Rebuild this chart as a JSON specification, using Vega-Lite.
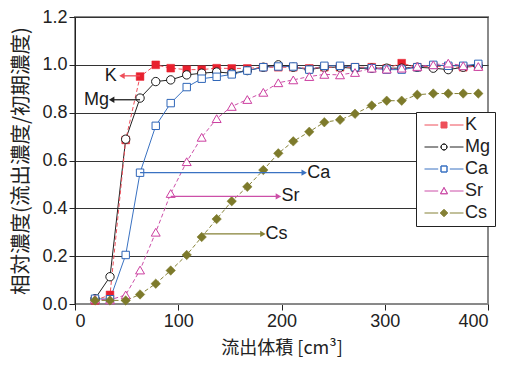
{
  "$schema": "https://vega.github.io/schema/vega-lite/v6.json",
  "autosize": "none",
  "width": 413,
  "height": 287,
  "padding": {"left": 75, "top": 17, "right": 20, "bottom": 61},
  "background": "white",
  "datasets": {
    "main": [
      {"series":"K","x":19.4,"y":0.015},{"series":"K","x":33.9,"y":0.038},{"series":"K","x":49.1,"y":0.686},{"series":"K","x":63.0,"y":0.951},{"series":"K","x":78.2,"y":1.0},{"series":"K","x":92.7,"y":0.986},{"series":"K","x":108.2,"y":0.98},{"series":"K","x":122.7,"y":0.98},{"series":"K","x":137.2,"y":0.986},{"series":"K","x":151.8,"y":0.985},{"series":"K","x":166.9,"y":0.985},{"series":"K","x":182.4,"y":0.99},{"series":"K","x":196.9,"y":0.99},{"series":"K","x":211.4,"y":0.99},{"series":"K","x":226.9,"y":0.985},{"series":"K","x":241.5,"y":0.99},{"series":"K","x":256.7,"y":0.99},{"series":"K","x":271.2,"y":0.99},{"series":"K","x":287.4,"y":0.99},{"series":"K","x":301.9,"y":0.985},{"series":"K","x":316.4,"y":1.007},{"series":"K","x":331.5,"y":0.99},{"series":"K","x":347.0,"y":0.995},{"series":"K","x":361.5,"y":0.99},{"series":"K","x":376.0,"y":0.99},{"series":"K","x":390.6,"y":0.995},
      {"series":"Mg","x":19.4,"y":0.022},{"series":"Mg","x":33.9,"y":0.114},{"series":"Mg","x":49.1,"y":0.689},{"series":"Mg","x":63.0,"y":0.861},{"series":"Mg","x":78.2,"y":0.93},{"series":"Mg","x":92.7,"y":0.937},{"series":"Mg","x":108.2,"y":0.958},{"series":"Mg","x":122.7,"y":0.965},{"series":"Mg","x":137.2,"y":0.97},{"series":"Mg","x":151.8,"y":0.965},{"series":"Mg","x":166.9,"y":0.976},{"series":"Mg","x":182.4,"y":0.99},{"series":"Mg","x":196.9,"y":1.0},{"series":"Mg","x":211.4,"y":0.99},{"series":"Mg","x":226.9,"y":0.98},{"series":"Mg","x":241.5,"y":0.99},{"series":"Mg","x":256.7,"y":0.99},{"series":"Mg","x":271.2,"y":0.985},{"series":"Mg","x":287.4,"y":0.986},{"series":"Mg","x":301.9,"y":0.986},{"series":"Mg","x":316.4,"y":0.986},{"series":"Mg","x":331.5,"y":0.99},{"series":"Mg","x":347.0,"y":0.986},{"series":"Mg","x":361.5,"y":0.98},{"series":"Mg","x":376.0,"y":0.99},{"series":"Mg","x":390.6,"y":0.995},
      {"series":"Ca","x":19.4,"y":0.022},{"series":"Ca","x":33.9,"y":0.02},{"series":"Ca","x":49.1,"y":0.205},{"series":"Ca","x":63.0,"y":0.549},{"series":"Ca","x":78.2,"y":0.745},{"series":"Ca","x":92.7,"y":0.84},{"series":"Ca","x":108.2,"y":0.907},{"series":"Ca","x":122.7,"y":0.942},{"series":"Ca","x":137.2,"y":0.95},{"series":"Ca","x":151.8,"y":0.96},{"series":"Ca","x":166.9,"y":0.976},{"series":"Ca","x":182.4,"y":0.99},{"series":"Ca","x":196.9,"y":0.993},{"series":"Ca","x":211.4,"y":0.993},{"series":"Ca","x":226.9,"y":0.98},{"series":"Ca","x":241.5,"y":0.996},{"series":"Ca","x":256.7,"y":0.996},{"series":"Ca","x":271.2,"y":0.99},{"series":"Ca","x":287.4,"y":0.986},{"series":"Ca","x":301.9,"y":0.98},{"series":"Ca","x":316.4,"y":0.98},{"series":"Ca","x":331.5,"y":0.99},{"series":"Ca","x":347.0,"y":1.0},{"series":"Ca","x":361.5,"y":0.996},{"series":"Ca","x":376.0,"y":0.996},{"series":"Ca","x":390.6,"y":1.004},
      {"series":"Sr","x":19.4,"y":0.02},{"series":"Sr","x":33.9,"y":0.017},{"series":"Sr","x":49.1,"y":0.038},{"series":"Sr","x":63.0,"y":0.142},{"series":"Sr","x":78.2,"y":0.3},{"series":"Sr","x":92.7,"y":0.462},{"series":"Sr","x":108.2,"y":0.595},{"series":"Sr","x":122.7,"y":0.697},{"series":"Sr","x":137.2,"y":0.775},{"series":"Sr","x":151.8,"y":0.826},{"series":"Sr","x":166.9,"y":0.855},{"series":"Sr","x":182.4,"y":0.885},{"series":"Sr","x":196.9,"y":0.925},{"series":"Sr","x":211.4,"y":0.937},{"series":"Sr","x":226.9,"y":0.951},{"series":"Sr","x":241.5,"y":0.96},{"series":"Sr","x":256.7,"y":0.958},{"series":"Sr","x":271.2,"y":0.968},{"series":"Sr","x":287.4,"y":0.986},{"series":"Sr","x":301.9,"y":0.982},{"series":"Sr","x":316.4,"y":0.986},{"series":"Sr","x":331.5,"y":0.993},{"series":"Sr","x":347.0,"y":1.0},{"series":"Sr","x":361.5,"y":1.007},{"series":"Sr","x":376.0,"y":0.996},{"series":"Sr","x":390.6,"y":0.993},
      {"series":"Cs","x":19.4,"y":0.015},{"series":"Cs","x":33.9,"y":0.015},{"series":"Cs","x":49.1,"y":0.015},{"series":"Cs","x":63.0,"y":0.04},{"series":"Cs","x":78.2,"y":0.085},{"series":"Cs","x":92.7,"y":0.14},{"series":"Cs","x":108.2,"y":0.205},{"series":"Cs","x":122.7,"y":0.28},{"series":"Cs","x":137.2,"y":0.355},{"series":"Cs","x":151.8,"y":0.43},{"series":"Cs","x":166.9,"y":0.49},{"series":"Cs","x":182.4,"y":0.56},{"series":"Cs","x":196.9,"y":0.63},{"series":"Cs","x":211.4,"y":0.68},{"series":"Cs","x":226.9,"y":0.72},{"series":"Cs","x":241.5,"y":0.76},{"series":"Cs","x":256.7,"y":0.77},{"series":"Cs","x":271.2,"y":0.795},{"series":"Cs","x":287.4,"y":0.83},{"series":"Cs","x":301.9,"y":0.85},{"series":"Cs","x":316.4,"y":0.85},{"series":"Cs","x":331.5,"y":0.875},{"series":"Cs","x":347.0,"y":0.88},{"series":"Cs","x":361.5,"y":0.88},{"series":"Cs","x":376.0,"y":0.88},{"series":"Cs","x":390.6,"y":0.88}
    ],
    "notes": [
      {"series":"K","x":63.0,"x2":45.5,"y":0.954,"lx":40.5},
      {"series":"Mg","x":63.0,"x2":35.5,"y":0.854,"lx":33.0},
      {"series":"Ca","x":63.0,"x2":222.0,"y":0.549,"lx":225.0},
      {"series":"Sr","x":92.7,"x2":197.0,"y":0.45,"lx":200.0},
      {"series":"Cs","x":124.0,"x2":182.0,"y":0.293,"lx":184.5}
    ]
  },
  "encoding": {
    "x": {"field": "x", "type": "quantitative", "scale": {"domain": [0, 400], "nice": false},
      "axis": {"values": [0, 100, 200, 300, 400], "grid": false, "title": "流出体積 [cm³]", "domainColor": "#888888", "titlePadding": 9}},
    "y": {"field": "y", "type": "quantitative", "scale": {"domain": [0, 1.2], "nice": false},
      "axis": {"values": [0, 0.2, 0.4, 0.6, 0.8, 1.0, 1.2], "format": ".1f", "grid": true, "title": "相対濃度(流出濃度/初期濃度)", "titlePadding": 10, "titleFontSize": 20.5}},
    "color": {"field": "series", "type": "nominal", "scale": {"domain": ["K", "Mg", "Ca", "Sr", "Cs"], "range": ["#ee4f5a", "#222222", "#3a72c2", "#cc4fa8", "#858136"]},
      "legend": {"title": null, "orient": "none", "legendX": 341, "legendY": 95, "padding": 4, "fillColor": "white", "strokeColor": "#222222", "symbolSize": 100, "symbolStrokeWidth": 1, "symbolOffset": 15, "symbolFillColor": "white", "labelFont": "Liberation Sans", "labelFontSize": 18, "labelColor": "#222222", "labelOffset": 12, "rowPadding": 4,
        "encoding": {"symbols": {
          "shape": {"value": {"expr": "datum.value === 'K' ? 'M-3.9,0H-1.16M1.16,0H3.9M-0.6,-0.6H0.6V0.6H-0.6Z' : datum.value === 'Mg' ? 'M-3.9,0H-1.16M1.16,0H3.9M-0.6,0A0.6,0.6,0,1,1,0.6,0A0.6,0.6,0,1,1,-0.6,0ZM-0.6,0A0.6,0.6,0,1,0,0.6,0A0.6,0.6,0,1,0,-0.6,0Z' : datum.value === 'Ca' ? 'M-3.9,0H-1.16M1.16,0H3.9M-0.6,-0.6H0.6V0.6H-0.6ZM-0.6,-0.6V0.6H0.6V-0.6Z' : datum.value === 'Sr' ? 'M-3.9,0H-1.16M1.16,0H3.9M0,-0.7L0.7,0.55L-0.7,0.55ZM0,-0.7L-0.7,0.55L0.7,0.55Z' : 'M-3.9,0H-1.16M1.16,0H3.9M0,-0.75L0.75,0L0,0.75L-0.75,0Z'"}},
          "opacity": {"value": 1}
        }}}}
  },
  "layer": [
    {
      "data": {"name": "main"},
      "transform": [{"filter": "datum.series === 'Mg' || datum.series === 'Ca'"}],
      "mark": {"type": "line", "strokeWidth": 1}
    },
    {
      "data": {"name": "main"},
      "transform": [{"filter": "datum.series === 'K' || datum.series === 'Sr' || datum.series === 'Cs'"}],
      "mark": {"type": "line", "strokeWidth": 1, "strokeDash": [4, 2.5]}
    },
    {
      "data": {"name": "main"},
      "transform": [{"filter": "datum.series === 'K'"}],
      "mark": {"type": "point", "shape": "square", "filled": true, "fill": "#e8202e", "stroke": "#e8202e", "strokeWidth": 0.5, "opacity": 1, "size": 60}
    },
    {
      "data": {"name": "main"},
      "transform": [{"filter": "datum.series === 'Mg'"}],
      "mark": {"type": "point", "shape": "circle", "filled": true, "fill": "white", "stroke": "#1a1a1a", "strokeWidth": 1, "opacity": 1, "size": 70}
    },
    {
      "data": {"name": "main"},
      "transform": [{"filter": "datum.series === 'Ca'"}],
      "mark": {"type": "point", "shape": "square", "filled": true, "fill": "white", "stroke": "#2f66b8", "strokeWidth": 1, "opacity": 1, "size": 55}
    },
    {
      "data": {"name": "main"},
      "transform": [{"filter": "datum.series === 'Sr'"}],
      "mark": {"type": "point", "shape": "triangle-up", "filled": true, "fill": "white", "stroke": "#cc3fa0", "strokeWidth": 1, "opacity": 1, "size": 80}
    },
    {
      "data": {"name": "main"},
      "transform": [{"filter": "datum.series === 'Cs'"}],
      "mark": {"type": "point", "shape": "diamond", "filled": true, "fill": "#7d7a2b", "stroke": "#7d7a2b", "strokeWidth": 0.5, "opacity": 1, "size": 90}
    },
    {
      "data": {"name": "notes"},
      "mark": {"type": "rule", "strokeWidth": 1.3},
      "encoding": {
        "x2": {"field": "x2"}
      }
    },
    {
      "data": {"name": "notes"},
      "transform": [{"filter": "datum.series === 'K' || datum.series === 'Mg'"}],
      "mark": {"type": "point", "shape": "triangle-left", "filled": true, "opacity": 1, "size": 40},
      "encoding": {
        "x": {"field": "x2", "type": "quantitative"}
      }
    },
    {
      "data": {"name": "notes"},
      "transform": [{"filter": "datum.series !== 'K' && datum.series !== 'Mg'"}],
      "mark": {"type": "point", "shape": "triangle-right", "filled": true, "opacity": 1, "size": 40},
      "encoding": {
        "x": {"field": "x2", "type": "quantitative"}
      }
    },
    {
      "data": {"name": "notes"},
      "transform": [{"filter": "datum.series === 'K' || datum.series === 'Mg'"}],
      "mark": {"type": "text", "align": "right", "baseline": "middle", "font": "Liberation Sans", "fontSize": 18},
      "encoding": {
        "x": {"field": "lx", "type": "quantitative"},
        "text": {"field": "series"},
        "color": {"value": "#1a1a1a"}
      }
    },
    {
      "data": {"name": "notes"},
      "transform": [{"filter": "datum.series !== 'K' && datum.series !== 'Mg'"}],
      "mark": {"type": "text", "align": "left", "baseline": "middle", "font": "Liberation Sans", "fontSize": 18},
      "encoding": {
        "x": {"field": "lx", "type": "quantitative"},
        "text": {"field": "series"},
        "color": {"value": "#1a1a1a"}
      }
    }
  ],
  "config": {
    "view": {"stroke": "#8a8a8a", "strokeWidth": 2},
    "axis": {
      "labelFont": "Liberation Sans", "labelFontSize": 18, "labelColor": "#222222",
      "titleFont": "Noto Sans CJK JP", "titleFontSize": 18, "titleFontWeight": "normal", "titleColor": "#222222",
      "tickColor": "#222222", "domainColor": "#222222", "tickSize": 6, "labelPadding": 2,
      "gridColor": "#333333", "gridWidth": 1, "gridOpacity": 1
    }
  }
}
